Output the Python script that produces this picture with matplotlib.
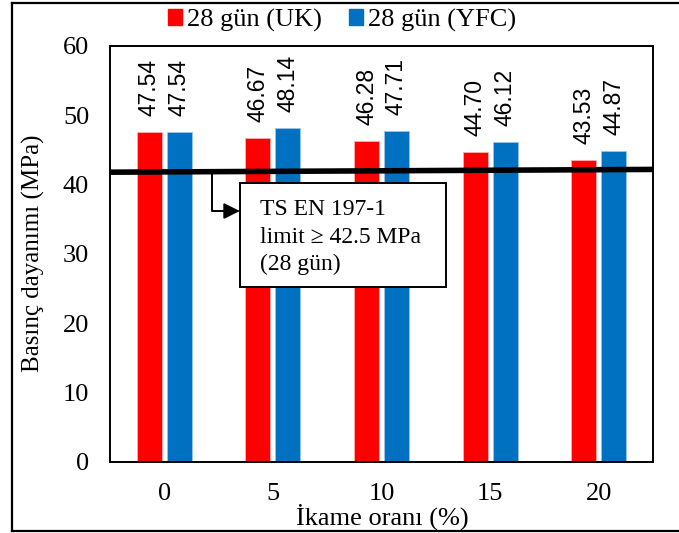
import numpy as np
import matplotlib
matplotlib.use("Agg")
import matplotlib.pyplot as plt
from matplotlib.patches import Patch, Rectangle
from matplotlib.lines import Line2D

# data
oran = ['0', '5', '10', '15', '20']
uk_28 = [47.54, 46.67, 46.28, 44.70, 43.53]
yfc_28 = [47.54, 48.14, 47.71, 46.12, 44.87]
limit_line = [41.8, 42.2]   # drawn limit line, left end / right end
box_lines = ['TS EN 197-1', 'limit \u2265 42.5 MPa', '(28 gün)']

red = '#FF0000'
blue = '#0070C0'
serif = 'Liberation Serif'
sans = 'Liberation Sans'

W, H = 679, 533
fig = plt.figure(figsize=(W / 100, H / 100), dpi=100)
ax = fig.add_axes([110 / W, 1 - 462 / H, 543 / W, 416 / H])

ind = np.arange(len(oran))
width = 0.23
off = 0.138
b1 = ax.bar(ind - off, uk_28, width, color=red, edgecolor='#ffb0b0', linewidth=0.6, zorder=2)
b2 = ax.bar(ind + off, yfc_28, width, color=blue, edgecolor='#9cc4e8', linewidth=0.6, zorder=2)

# value labels (rotated)
for bars, vals in ((b1, uk_28), (b2, yfc_28)):
    for r, v in zip(bars, vals):
        ax.annotate('{:.2f}'.format(v), (r.get_x() + r.get_width() / 2, v),
                    xytext=(0, 11.5), textcoords='offset points',
                    rotation=90, ha='center', va='bottom',
                    fontsize=16.5, family=sans)

# limit line
ax.plot([-0.5, 4.5], limit_line, color='black', lw=4, zorder=3, solid_capstyle='butt')

ax.set_xlim(-0.5, 4.5)
ax.set_ylim(0, 60)
ax.set_yticks(np.arange(0, 61, 10))
ax.set_xticks(ind)
ax.set_xticklabels(oran)
ax.tick_params(length=0, pad=15, labelsize=19)
for lab in ax.get_xticklabels() + ax.get_yticklabels():
    lab.set_family(serif)
for s in ax.spines.values():
    s.set_linewidth(1.4)

fig.text(382 / W, 1 - 517 / H, 'İkame oranı (%)', ha='center', va='center',
         fontsize=19, family=serif)
fig.text(33 / W, 1 - 253 / H, 'Basınç dayanımı (MPa)', ha='center', va='center',
         rotation=90, fontsize=18, family=serif)

# elbow arrow from the line to the note box
y_line = limit_line[0] + (limit_line[1] - limit_line[0]) * (0.44 + 0.5) / 5
ax.annotate('', xy=(0.695, 36.2), xytext=(0.44, y_line),
            arrowprops=dict(arrowstyle='-|>', connectionstyle='angle,angleA=90,angleB=0,rad=0',
                            color='black', lw=1.4, mutation_scale=24, shrinkA=0, shrinkB=0),
            zorder=4)

# note box
fig.add_artist(Rectangle((240 / W, 1 - 287 / H), 206 / W, 104 / H, transform=fig.transFigure,
                         facecolor='white', edgecolor='black', lw=1.4, zorder=5))
for i, t in enumerate(box_lines):
    fig.text(260 / W, 1 - (215 + 27.5 * i) / H, t, ha='left', va='baseline',
             fontsize=17, family=serif, zorder=6)

# legend
handles = [Patch(color=red), Patch(color=blue)]
fig.legend(handles, ['28 gün (UK)', '28 gün (YFC)'], loc='center',
           bbox_to_anchor=(342 / W, 1 - 20 / H), ncol=2, frameon=False,
           prop={'family': serif, 'size': 19}, handlelength=0.55, handleheight=0.55,
           handletextpad=0.2, columnspacing=1.0, borderpad=0)

# outer chart border
for xs, ys in (([12, 12], [3, 531]), ([12, 690], [3, 3]), ([12, 690], [531, 531])):
    fig.add_artist(Line2D([x / W for x in xs], [1 - y / H for y in ys],
                          transform=fig.transFigure, color='black', lw=1.6))

fig.savefig('out.png', dpi=100)
